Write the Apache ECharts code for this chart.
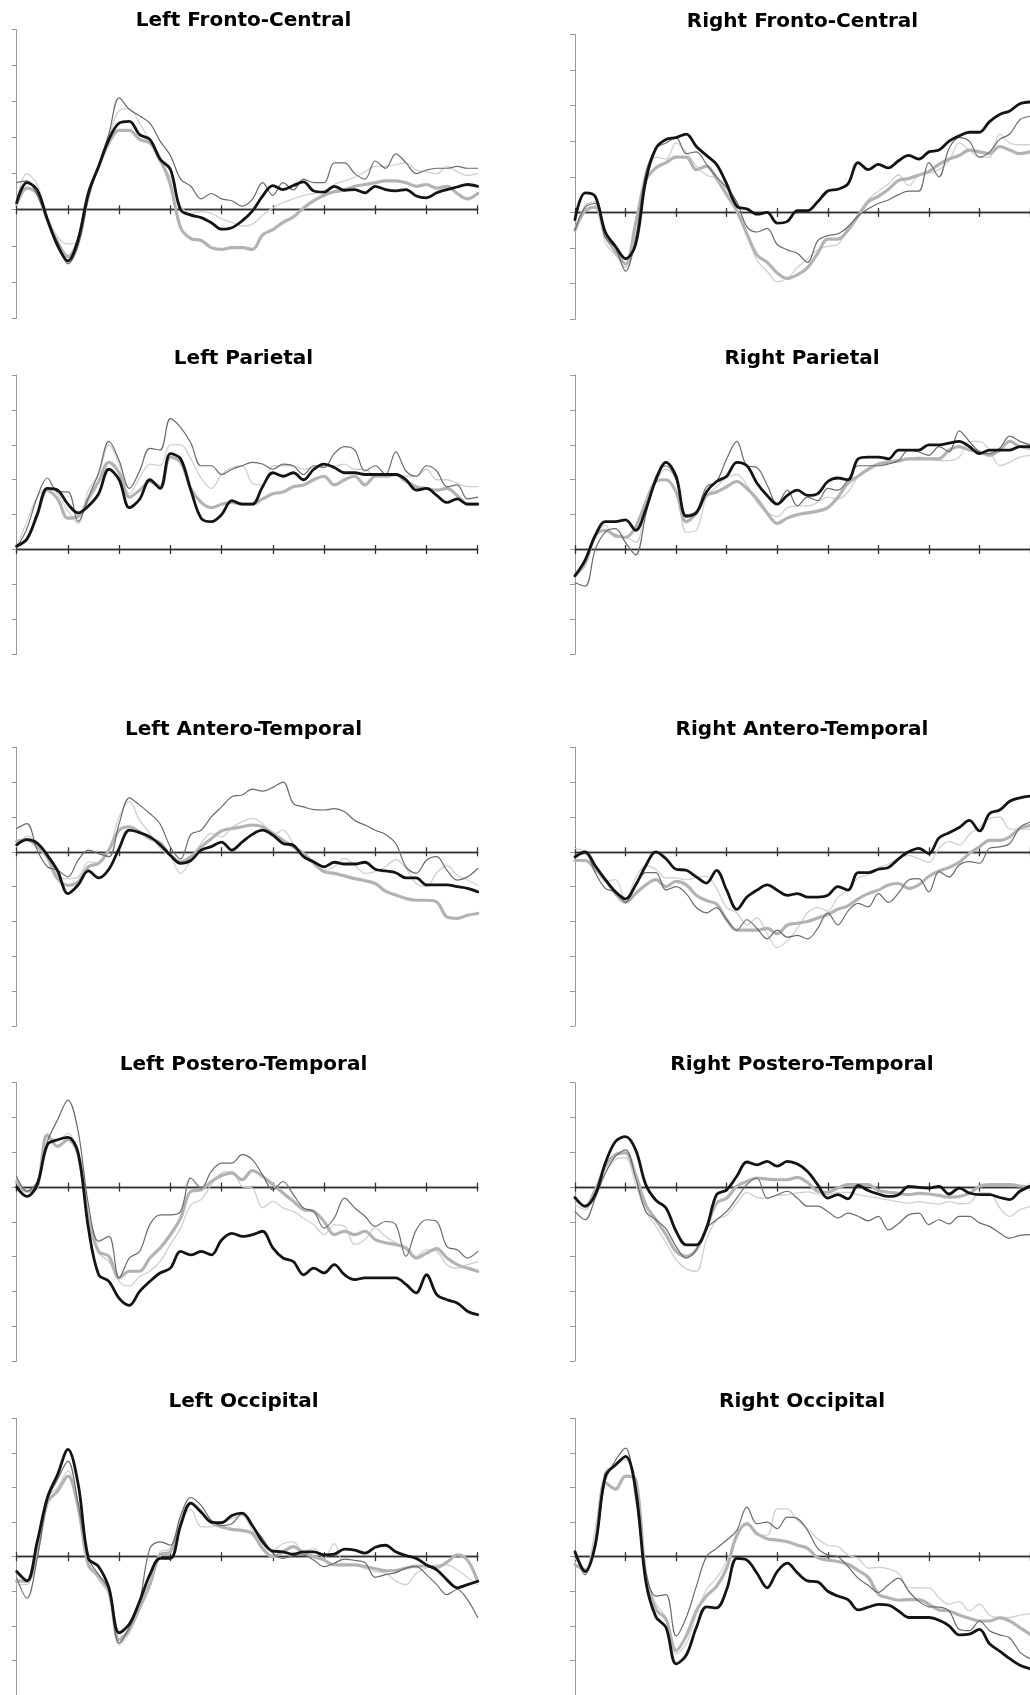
<!DOCTYPE html>
<html>
<head>
<meta charset="utf-8">
<script src="https://cdn.jsdelivr.net/npm/echarts@6/dist/echarts.min.js"></script>
<style>
html,body{margin:0;padding:0;background:#fff;}
#chart{width:1030px;height:1695px;}
</style>
</head>
<body>
<div id="chart"></div>
<script>
// time samples (ms), one every 20 ms
const times = [-100,-80,-60,-40,-20,0,20,40,60,80,100,120,140,160,180,200,220,240,260,280,300,320,340,360,380,400,420,440,460,480,500,520,540,560,580,600,620,640,660,680,700,720,740,760,780,800];

const panelTitles = ['Left Fronto-Central','Right Fronto-Central','Left Parietal','Right Parietal','Left Antero-Temporal','Right Antero-Temporal','Left Postero-Temporal','Right Postero-Temporal','Left Occipital','Right Occipital'];
const yRanges = [[-3,5],[-3,5],[-3,5],[-3,5],[-5,3],[-5,3],[-5,3],[-5,3],[-4,4],[-4,4]];

// Left Fronto-Central
const lfc_black = [0.2,0.75,0.55,-0.27,-1.0,-1.42,-0.82,0.47,1.2,1.95,2.4,2.45,2.08,1.95,1.4,1.12,0.0,-0.15,-0.22,-0.36,-0.54,-0.5,-0.31,-0.04,0.38,0.67,0.56,0.67,0.77,0.52,0.49,0.65,0.54,0.56,0.47,0.65,0.56,0.52,0.56,0.38,0.33,0.47,0.56,0.63,0.7,0.65];
const lfc_thinDark = [0.75,0.8,0.4,-0.3,-0.9,-1.5,-1.0,0.3,1.25,2.1,3.1,2.78,2.6,2.4,1.9,1.5,0.85,0.65,0.3,0.45,0.3,0.25,0.1,0.29,0.75,0.4,0.75,0.55,0.85,0.75,0.75,1.3,1.3,1.0,0.85,1.35,1.15,1.55,1.3,1.0,1.1,1.15,1.15,1.2,1.15,1.15];
const lfc_thickGray = [0.15,0.6,0.45,-0.3,-0.9,-1.3,-0.85,0.45,1.2,1.85,2.2,2.2,1.95,1.85,1.4,0.7,-0.5,-0.8,-0.85,-1.05,-1.1,-1.05,-1.05,-1.1,-0.7,-0.55,-0.35,-0.2,0.05,0.25,0.4,0.5,0.55,0.65,0.7,0.75,0.8,0.8,0.75,0.65,0.7,0.6,0.65,0.45,0.3,0.45];
const lfc_thinGray = [0.3,1.0,0.7,-0.2,-0.75,-0.95,-0.9,0.35,1.2,2.0,2.75,2.8,2.4,1.9,1.3,0.9,0.1,-0.1,-0.05,-0.1,-0.25,-0.35,-0.45,-0.4,-0.15,0.05,0.2,0.3,0.4,0.45,0.5,0.7,0.8,0.9,1.05,1.2,1.2,1.25,1.3,1.1,1.05,1.0,1.2,1.05,0.95,1.0];

// Right Fronto-Central
const rfc_black = [-0.2,0.55,0.45,-0.55,-0.95,-1.3,-0.9,0.9,1.8,2.05,2.1,2.2,1.85,1.6,1.35,0.8,0.18,0.1,-0.05,0.0,-0.3,-0.25,0.05,0.05,0.3,0.6,0.65,0.8,1.4,1.2,1.35,1.25,1.45,1.6,1.5,1.7,1.75,2.0,2.15,2.25,2.25,2.55,2.75,2.85,3.05,3.1];
const rfc_thinDark = [-0.5,0.15,0.25,-0.7,-1.0,-1.65,-0.7,1.1,1.8,1.95,2.1,1.65,1.7,1.35,1.0,0.7,0.3,-0.4,-0.55,-0.45,-0.9,-1.05,-1.15,-1.4,-0.8,-0.65,-0.6,-0.4,-0.1,0.1,0.25,0.35,0.5,0.6,0.6,1.4,1.0,1.8,2.1,2.0,1.55,1.7,2.05,2.2,2.6,2.7];
const rfc_thickGray = [-0.5,0.05,0.15,-0.65,-1.1,-1.45,-0.3,0.9,1.25,1.4,1.55,1.55,1.2,1.3,0.95,0.5,0.05,-0.6,-1.2,-1.4,-1.7,-1.85,-1.75,-1.55,-1.15,-0.75,-0.75,-0.5,-0.1,0.3,0.45,0.65,0.9,0.95,1.05,1.15,1.35,1.5,1.6,1.75,1.7,1.65,1.85,1.75,1.65,1.7];
const rfc_thinGray = [-0.5,0.2,0.3,-0.85,-1.2,-1.55,-0.25,1.15,1.55,1.5,1.95,1.7,1.3,1.05,0.95,0.65,0.0,-0.6,-1.35,-1.65,-1.95,-1.85,-1.55,-1.3,-1.05,-0.95,-0.9,-0.4,-0.1,0.35,0.6,0.8,1.05,0.75,1.05,1.1,1.2,1.45,1.95,1.75,1.55,1.55,2.2,1.95,1.9,1.9];

// Left Parietal
const lp_black = [0.1,0.3,1.0,1.75,1.7,1.3,1.05,1.25,1.6,2.3,2.0,1.2,1.44,2.0,1.75,2.75,2.6,1.7,0.9,0.8,1.0,1.4,1.3,1.3,1.8,2.2,2.1,2.2,2.0,2.3,2.45,2.35,2.2,2.2,2.15,2.15,2.15,2.15,2.0,1.7,1.75,1.55,1.35,1.45,1.3,1.3];
const lp_thinDark = [0.05,0.6,1.5,2.05,1.65,1.65,0.8,1.5,2.2,3.1,2.55,1.75,2.25,2.9,2.85,3.75,3.5,3.05,2.4,2.4,2.15,2.3,2.4,2.5,2.45,2.3,2.45,2.4,2.15,2.4,2.35,2.75,2.95,2.85,2.25,2.4,2.15,2.8,2.25,2.1,2.4,2.25,1.8,1.85,1.45,1.5];
const lp_thickGray = [0.1,0.3,1.0,1.7,1.45,0.9,0.95,1.45,1.95,2.5,2.2,1.5,1.7,1.95,1.8,2.65,2.5,1.75,1.35,1.2,1.3,1.35,1.3,1.3,1.45,1.6,1.65,1.8,1.85,2.0,2.1,1.85,2.0,2.1,1.85,2.1,2.1,2.15,1.95,1.8,1.75,1.7,1.75,1.55,1.3,1.3];
const lp_thinGray = [0.1,0.8,1.5,1.75,1.6,1.1,0.75,1.7,2.15,3.0,2.45,1.6,2.05,2.45,2.4,3.0,3.0,2.6,2.05,1.75,2.15,2.35,2.4,1.9,1.85,2.4,2.4,2.4,2.3,2.35,2.4,2.4,2.45,2.3,2.3,2.1,2.15,2.15,2.1,2.1,2.3,2.0,2.0,1.9,1.8,1.8];

// Right Parietal
const rp_black = [-0.75,-0.3,0.4,0.8,0.8,0.85,0.55,1.15,2.0,2.5,2.1,0.95,1.05,1.65,1.95,2.1,2.5,2.4,1.9,1.55,1.3,1.55,1.7,1.55,1.6,1.95,2.05,2.0,2.6,2.65,2.65,2.6,2.85,2.85,2.85,3.0,3.0,3.05,3.1,2.95,2.75,2.85,2.85,2.85,2.95,2.95];
const rp_thinDark = [-0.95,-1.05,0.0,0.5,0.6,0.2,-0.15,1.0,2.1,2.4,2.0,1.0,1.1,1.8,1.95,2.6,3.1,2.4,2.35,1.85,1.3,1.7,1.25,1.5,1.4,1.75,1.7,2.0,2.4,2.4,2.4,2.45,2.55,2.85,2.8,2.7,2.95,2.8,3.4,3.1,2.8,2.75,2.9,3.25,3.1,3.0];
const rp_thickGray = [-0.75,-0.4,0.4,0.55,0.4,0.35,0.65,1.35,1.95,2.0,1.65,0.8,1.05,1.55,1.65,1.8,1.95,1.75,1.45,1.05,0.75,0.9,1.0,1.05,1.1,1.2,1.5,1.9,2.1,2.3,2.45,2.5,2.55,2.6,2.6,2.6,2.6,2.85,2.95,2.85,2.8,2.7,2.85,3.1,2.95,2.9];
const rp_thinGray = [-0.7,-0.4,0.35,0.7,0.35,0.35,0.2,1.15,1.95,2.3,2.0,0.5,0.55,1.5,1.8,2.05,2.15,1.85,1.35,1.05,0.95,1.2,1.25,1.25,1.35,1.5,1.45,1.65,2.1,2.35,2.45,2.55,2.5,2.6,2.65,2.6,2.55,2.55,2.65,3.1,3.1,2.85,2.4,2.5,2.65,2.7];

// Left Antero-Temporal
const lat_black = [0.2,0.35,0.25,-0.1,-0.55,-1.2,-0.95,-0.55,-0.75,-0.5,0.1,0.62,0.55,0.43,0.2,-0.1,-0.33,-0.25,0.05,0.15,0.28,0.05,0.28,0.5,0.62,0.48,0.24,0.19,-0.14,-0.29,-0.43,-0.3,-0.35,-0.35,-0.3,-0.5,-0.55,-0.6,-0.75,-0.75,-0.95,-0.95,-0.95,-1.0,-1.05,-1.15];
const lat_thinDark = [0.67,0.81,0.05,-0.43,-0.53,-0.72,-0.24,0.05,-0.05,-0.14,0.81,1.55,1.34,1.1,0.8,0.14,-0.2,0.5,0.62,1.0,1.29,1.58,1.63,1.8,1.74,1.85,2.0,1.39,1.29,1.21,1.2,1.24,1.15,0.9,0.77,0.62,0.5,0.24,-0.43,-0.62,-0.24,-0.14,-0.53,-0.81,-0.72,-0.48];
const lat_thickGray = [0.3,0.35,0.15,-0.15,-0.77,-0.96,-0.86,-0.43,-0.33,0.05,0.62,0.72,0.57,0.38,0.26,-0.1,-0.29,-0.14,0.14,0.38,0.6,0.67,0.72,0.77,0.72,0.53,0.33,0.14,-0.05,-0.33,-0.57,-0.62,-0.69,-0.77,-0.83,-0.91,-1.13,-1.24,-1.34,-1.39,-1.39,-1.44,-1.87,-1.91,-1.82,-1.77];
const lat_thinGray = [0.15,0.45,0.24,-0.24,-0.77,-0.77,-0.72,-0.29,-0.33,0.05,1.0,1.44,0.91,0.53,0.1,-0.14,-0.62,-0.24,0.24,0.53,0.43,0.7,0.86,0.96,0.81,0.48,0.62,0.24,-0.05,-0.33,-0.53,-0.43,-0.19,-0.38,-0.62,-0.57,-0.43,-0.22,-0.48,-0.91,-1.0,-0.6,-0.4,-0.67,-0.81,-0.96];

// Right Antero-Temporal
const rat_black = [-0.15,0.0,-0.4,-0.8,-1.15,-1.35,-0.95,-0.4,0.0,-0.2,-0.5,-0.53,-0.72,-0.9,-0.53,-1.1,-1.65,-1.3,-1.1,-0.95,-1.1,-1.25,-1.2,-1.3,-1.3,-1.25,-1.0,-1.1,-0.6,-0.6,-0.5,-0.45,-0.2,0.0,0.1,-0.05,0.4,0.55,0.7,0.9,0.6,1.1,1.2,1.45,1.55,1.6];
const rat_thinDark = [-0.1,-0.05,-0.6,-1.05,-1.15,-1.45,-0.95,-0.6,-0.6,-1.1,-1.0,-1.2,-1.6,-1.75,-1.6,-1.95,-2.25,-1.95,-2.2,-2.5,-2.25,-2.45,-2.4,-2.5,-2.2,-1.75,-2.1,-1.7,-1.48,-1.58,-1.2,-1.45,-1.18,-0.81,-0.77,-1.15,-0.57,-0.72,-0.38,-0.28,-0.33,0.1,0.14,0.24,0.7,0.85];
const rat_thickGray = [-0.25,-0.25,-0.5,-0.8,-1.2,-1.45,-1.2,-0.95,-0.8,-1.0,-0.85,-0.95,-1.25,-1.4,-1.5,-1.95,-2.25,-2.25,-2.25,-2.2,-2.35,-2.1,-2.05,-2.0,-1.9,-1.8,-1.65,-1.55,-1.35,-1.2,-1.1,-0.95,-0.91,-1.05,-0.95,-0.7,-0.55,-0.45,-0.3,-0.05,0.14,0.33,0.33,0.43,0.67,0.75];
const rat_thinGray = [0.1,0.0,-0.4,-0.85,-0.8,-1.4,-0.75,-0.4,-0.5,-0.75,-0.75,-0.8,-0.75,-0.7,-1.05,-1.6,-1.75,-2.1,-1.9,-2.35,-2.75,-2.55,-2.2,-1.75,-1.6,-1.7,-1.3,-1.1,-0.75,-0.65,-0.45,-0.35,-0.2,-0.1,-0.2,-0.3,0.1,0.3,0.2,0.5,0.7,0.95,1.0,0.65,0.65,0.65];

// Left Postero-Temporal
const lpt_black = [0.0,-0.27,0.07,1.22,1.36,1.43,0.98,-1.18,-2.52,-2.71,-3.2,-3.4,-3.0,-2.71,-2.47,-2.33,-1.85,-1.95,-1.85,-1.95,-1.52,-1.33,-1.42,-1.37,-1.27,-1.75,-2.04,-2.14,-2.52,-2.33,-2.47,-2.23,-2.52,-2.66,-2.61,-2.61,-2.61,-2.61,-2.8,-3.04,-2.52,-3.09,-3.24,-3.33,-3.57,-3.67];
const lpt_thinDark = [0.3,-0.12,0.16,1.31,1.94,2.5,1.6,-0.5,-1.56,-1.42,-2.61,-2.04,-1.85,-1.08,-0.8,-0.8,-0.7,0.26,-0.03,0.45,0.69,0.69,0.93,0.79,0.35,-0.08,0.16,-0.22,-0.6,-0.7,-1.18,-0.89,-0.32,-0.6,-0.84,-1.13,-0.99,-1.08,-1.99,-1.23,-0.94,-0.99,-1.71,-1.8,-2.04,-1.85];
const lpt_thickGray = [0.15,-0.12,0.0,1.5,1.17,1.36,0.93,-0.9,-1.85,-1.99,-2.61,-2.42,-2.42,-2.04,-1.75,-1.37,-0.89,-0.12,-0.08,0.16,0.33,0.4,0.21,0.47,0.31,0.07,-0.17,-0.41,-0.65,-0.7,-0.99,-1.37,-1.27,-1.37,-1.27,-1.51,-1.6,-1.65,-1.75,-2.04,-1.9,-1.77,-2.04,-2.23,-2.33,-2.42];
const lpt_thinGray = [0.25,-0.12,0.05,1.41,1.36,1.55,0.79,-0.99,-1.9,-2.14,-2.71,-2.85,-2.57,-2.42,-2.14,-1.65,-1.18,-0.51,-0.36,0.07,0.4,0.45,0.02,-0.03,-0.6,-0.41,-0.6,-0.7,-0.89,-1.08,-1.37,-1.08,-1.13,-1.65,-1.51,-1.18,-1.42,-1.6,-1.8,-1.99,-1.8,-1.85,-2.23,-2.33,-2.23,-2.14];

// Right Postero-Temporal
const rpt_black = [-0.3,-0.55,-0.22,0.69,1.31,1.45,1.07,0.07,-0.38,-0.6,-1.27,-1.66,-1.66,-1.18,-0.22,-0.08,0.31,0.72,0.64,0.74,0.6,0.74,0.66,0.45,0.07,-0.32,-0.22,-0.34,0.05,-0.1,-0.2,-0.27,-0.22,0.02,-0.01,-0.03,0.02,-0.2,-0.03,-0.17,-0.22,-0.22,-0.3,-0.36,-0.12,0.02];
const rpt_thinDark = [-0.7,-0.94,-0.32,0.4,0.88,1.07,0.26,-0.7,-0.94,-1.2,-1.71,-2.04,-1.8,-1.18,-0.94,-0.7,-0.32,0.07,0.26,-0.32,-0.22,-0.12,-0.32,-0.55,-0.55,-0.7,-0.89,-0.75,-0.84,-0.97,-0.84,-1.23,-1.05,-0.8,-0.75,-1.08,-0.94,-1.06,-0.84,-0.84,-1.03,-1.13,-1.32,-1.47,-1.39,-1.37];
const rpt_thickGray = [-0.32,-0.56,-0.08,0.59,0.93,0.98,0.35,-0.51,-0.94,-1.37,-1.85,-1.99,-1.8,-1.18,-0.46,-0.32,0.02,0.16,0.26,0.23,0.21,0.21,0.28,0.13,-0.12,-0.15,-0.03,0.07,0.07,0.07,-0.1,-0.15,-0.18,-0.22,-0.18,-0.2,-0.24,-0.29,-0.27,-0.18,0.02,0.07,0.07,0.07,0.03,0.0];
const rpt_thinGray = [-0.51,-0.65,-0.12,0.4,0.79,0.85,0.07,-0.7,-1.13,-1.6,-2.09,-2.35,-2.42,-1.51,-0.94,-0.81,-0.46,-0.15,-0.3,-0.32,-0.24,-0.22,-0.17,-0.14,-0.2,-0.22,-0.15,-0.15,-0.22,-0.27,-0.32,-0.37,-0.42,-0.46,-0.42,-0.46,-0.49,-0.42,-0.48,-0.46,-0.17,-0.17,-0.6,-0.84,-0.65,-0.56];

// Left Occipital
const lo_black = [-0.43,-0.7,0.43,1.71,2.38,3.1,2.1,-0.05,-0.29,-0.9,-2.2,-1.95,-1.29,-0.52,-0.05,-0.05,0.9,1.55,1.29,1.0,0.98,1.19,1.26,0.9,0.43,0.16,0.14,0.07,0.14,0.14,0.05,0.07,0.22,0.19,0.1,0.27,0.33,0.14,0.03,-0.05,-0.24,-0.38,-0.67,-0.9,-0.81,-0.71];
const lo_thinDark = [-0.62,-1.2,-0.05,1.62,2.24,2.76,1.52,-0.05,-0.52,-0.95,-2.5,-2.05,-1.29,0.24,0.43,0.33,1.19,1.71,1.48,1.05,0.9,0.95,1.24,0.9,0.52,0.1,-0.05,0.03,0.05,-0.1,-0.29,-0.19,-0.07,-0.11,-0.17,-0.6,-0.52,-0.46,-0.33,-0.29,-0.52,-0.81,-1.1,-0.95,-1.24,-1.76];
const lo_thickGray = [-0.71,-0.71,0.14,1.57,1.9,2.33,1.43,-0.24,-0.57,-1.0,-2.4,-2.1,-1.48,-0.81,0.05,0.14,1.0,1.55,1.29,0.98,0.86,0.79,0.76,0.67,0.24,0.0,0.14,0.29,0.1,0.0,-0.1,-0.24,-0.24,-0.24,-0.29,-0.35,-0.41,-0.4,-0.33,-0.27,-0.27,-0.31,-0.16,0.05,-0.1,-0.71];
const lo_thinGray = [-0.81,-0.81,0.33,1.71,2.0,2.48,1.52,-0.14,-0.67,-1.1,-2.55,-2.2,-1.38,-0.71,0.14,0.24,1.05,1.36,0.86,0.86,1.0,1.1,1.19,0.76,0.38,0.19,0.38,0.43,0.14,0.24,-0.05,0.38,-0.24,-0.24,-0.35,-0.43,-0.48,-0.7,-0.81,-0.48,-0.33,-0.24,-0.24,-0.38,-0.6,-0.81];

// Right Occipital
const ro_black = [0.14,-0.43,0.33,2.33,2.65,2.9,1.95,-0.71,-1.74,-2.05,-3.1,-2.85,-2.05,-1.45,-1.48,-0.95,-0.05,-0.1,-0.48,-0.9,-0.43,-0.19,-0.47,-0.7,-0.73,-1.0,-1.14,-1.24,-1.54,-1.46,-1.38,-1.4,-1.57,-1.76,-1.76,-1.76,-1.84,-2.0,-2.26,-2.24,-2.1,-2.52,-2.73,-2.95,-3.14,-3.24];
const ro_thinDark = [0.14,-0.52,0.33,2.19,2.78,3.14,1.67,-0.43,-1.14,-1.1,-2.3,-1.76,-0.86,0.0,0.24,0.48,0.76,1.43,0.95,1.0,0.81,1.14,1.1,0.76,0.24,0.05,0.0,-0.29,-0.62,-0.83,-1.03,-0.81,-0.62,-1.0,-1.29,-1.45,-1.46,-1.57,-2.1,-2.14,-1.86,-2.14,-2.26,-2.35,-2.76,-2.95];
const ro_thickGray = [-0.24,-0.38,0.38,2.14,1.95,2.33,2.24,-0.52,-1.52,-1.81,-2.71,-2.29,-1.57,-1.14,-0.86,-0.33,0.62,0.95,0.67,0.52,0.48,0.43,0.33,0.24,-0.03,-0.1,-0.14,-0.22,-0.4,-0.6,-1.08,-1.19,-1.26,-1.24,-1.24,-1.38,-1.54,-1.57,-1.69,-1.78,-1.86,-1.86,-1.77,-1.86,-2.05,-2.24];
const ro_thinGray = [-0.05,-0.38,0.81,2.48,2.62,2.81,2.24,-0.62,-1.36,-1.76,-2.81,-2.52,-1.67,-0.95,-0.62,-0.14,0.52,1.0,0.62,0.62,1.38,1.38,1.05,0.81,0.52,0.33,0.29,0.05,-0.05,-0.33,-0.31,-0.35,-0.48,-0.89,-0.9,-0.9,-1.19,-1.38,-1.3,-1.57,-1.38,-1.69,-1.76,-1.76,-1.69,-1.65];

const panelData = [
  [lfc_thinGray, lfc_thickGray, lfc_thinDark, lfc_black],
  [rfc_thinGray, rfc_thickGray, rfc_thinDark, rfc_black],
  [lp_thinGray, lp_thickGray, lp_thinDark, lp_black],
  [rp_thinGray, rp_thickGray, rp_thinDark, rp_black],
  [lat_thinGray, lat_thickGray, lat_thinDark, lat_black],
  [rat_thinGray, rat_thickGray, rat_thinDark, rat_black],
  [lpt_thinGray, lpt_thickGray, lpt_thinDark, lpt_black],
  [rpt_thinGray, rpt_thickGray, rpt_thinDark, rpt_black],
  [lo_thinGray, lo_thickGray, lo_thinDark, lo_black],
  [ro_thinGray, ro_thickGray, ro_thinDark, ro_black]
];

// ---- layout / styles ----
const lineStyles = [
  {color:'#d0d0d0', width:1.3},
  {color:'#b3b3b3', width:3.2},
  {color:'#6b6b6b', width:1.2},
  {color:'#141414', width:2.8}
];
const gridLayout = [
  {left:16.7, top:29.3, height:288.7},
  {left:575, top:34.3, height:285},
  {left:16.7, top:375, height:279.3},
  {left:575, top:375, height:279.3},
  {left:16.7, top:747.3, height:278.7},
  {left:575, top:747.3, height:278.7},
  {left:16.7, top:1082.7, height:278.3},
  {left:575, top:1082.7, height:278.3},
  {left:16.7, top:1418.3, height:280},
  {left:575, top:1418.3, height:280}
];
const titleLayout = [
  {x:243.5, y:11},{x:802.5, y:11.8},
  {x:243.5, y:348.5},{x:802, y:348.5},
  {x:243.5, y:719.8},{x:802, y:719.8},
  {x:243.5, y:1054.8},{x:802, y:1054.8},
  {x:243.5, y:1391.3},{x:802, y:1391.3}
];

const grids = [], xAxes = [], yAxes = [], series = [], titles = [];
panelTitles.forEach((name, p) => {
  const g = gridLayout[p];
  grids.push({left:g.left, top:g.top, width:461, height:g.height, containLabel:false});
  titles.push({
    text:name, left:titleLayout[p].x, top:titleLayout[p].y, textAlign:'center', padding:0,
    textStyle:{fontFamily:'DejaVu Sans', fontWeight:'bold', fontSize:20, color:'#000'}
  });
  ['bottom','top'].forEach(pos => {
    xAxes.push({
      type:'value', gridIndex:p, position:pos, min:-100, max:800, interval:100,
      axisLine:{show:true, onZero:true, onZeroAxisIndex:p, lineStyle:{color:'#333', width:1.3}},
      axisTick:{show:true, length:4.5, lineStyle:{color:'#333', width:1.3}},
      axisLabel:{show:false}, splitLine:{show:false}
    });
  });
  yAxes.push({
    type:'value', gridIndex:p, min:yRanges[p][0], max:yRanges[p][1], interval:1,
    axisLine:{show:true, onZero:false, lineStyle:{color:'#999', width:1}},
    axisTick:{show:true, length:5, lineStyle:{color:'#999', width:1}},
    axisLabel:{show:false}, splitLine:{show:false}
  });
  panelData[p].forEach((vals, k) => {
    series.push({
      type:'line', xAxisIndex:2*p, yAxisIndex:p,
      data: times.map((t, i) => [t, vals[i]]),
      showSymbol:false, smooth:0.35, silent:true,
      lineStyle:{color:lineStyles[k].color, width:lineStyles[k].width, cap:'round', join:'round'},
      z: 2 + k
    });
  });
});

const chart = echarts.init(document.getElementById('chart'), null, {renderer:'canvas'});
chart.setOption({
  animation:false,
  backgroundColor:'#ffffff',
  title:titles, grid:grids, xAxis:xAxes, yAxis:yAxes, series:series
});
</script>
</body>
</html>
